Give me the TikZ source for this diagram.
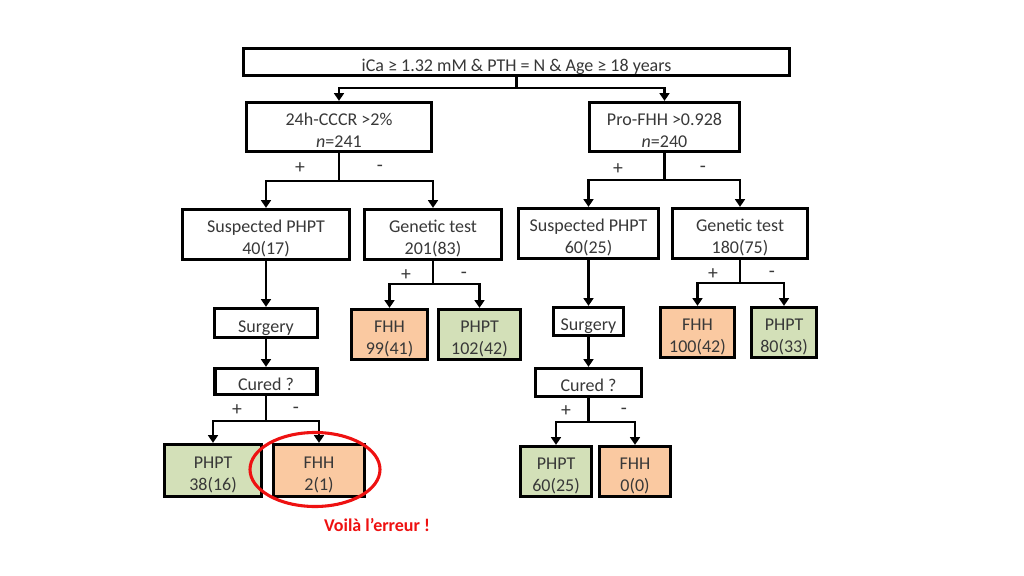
\documentclass[tikz,border=0pt]{standalone}
\usepackage{fontspec}
\setmainfont{Carlito}
\usepackage{xcolor}
\usetikzlibrary{arrows.meta, positioning}

\definecolor{phptgreen}{HTML}{D3E0B8}
\definecolor{fhhorange}{HTML}{FAC9A1}
\definecolor{inkgray}{HTML}{383838}
\definecolor{errred}{HTML}{EE1111}

% text sits a little below the middle of each box
\newcommand{\bx}[1]{\raisebox{-3.5pt}[\height][\depth]{\begin{tabular}{@{}c@{}}#1\end{tabular}}}

\tikzset{
  box/.style={draw, line width=2.3pt, fill=white, text=inkgray, inner sep=0pt},
  sz/.style 2 args={minimum width=#1*0.025cm, minimum height=#2*0.025cm},
  phpt/.style={box, fill=phptgreen},
  fhh/.style={box, fill=fhhorange},
  link/.style={line width=2.1pt},
  arr/.style={link, -{Triangle[width=7pt,length=5.5pt]}},
  sign/.style={text=inkgray, inner sep=0pt, font=\fontsize{14}{16}\selectfont}
}

\begin{document}
\begin{tikzpicture}[x=0.025cm, y=-0.025cm, font=\fontsize{12.8}{15.6}\selectfont]
    \useasboundingbox (0,0) rectangle (1024,576);

    % start
    \node[box, sz={546}{27}] (cond) at (516.5,62) {\bx{iCa ≥ 1.32 mM \& PTH = N \& Age ≥ 18 years}};
    \node[box, sz={185}{49}] (cccr) at (339,127) {\bx{24h-CCCR >2\%\\\textit{n}=241}};
    \node[box, sz={150}{49}] (profhh) at (664.5,127) {\bx{Pro-FHH >0.928\\\textit{n}=240}};

    % left branch
    \node[box, sz={167}{50}] (suspL) at (266,234.5) {\bx{Suspected PHPT\\40(17)}};
    \node[box, sz={137}{50}] (genL) at (433,234.5) {\bx{Genetic test\\201(83)}};
    \node[fhh, sz={76}{50}] (fhhL) at (389.5,334.5) {\bx{FHH\\99(41)}};
    \node[phpt, sz={82}{50}] (phptL) at (479.5,334.5) {\bx{PHPT\\102(42)}};
    \node[box, sz={103}{29}] (surgL) at (266,323) {\bx{Surgery}};
    \node[box, sz={102}{26}] (curedL) at (266,381.5) {\bx{Cured ?}};
    \node[phpt, sz={97}{52}] (phptLL) at (213,470.5) {\bx{PHPT\\38(16)}};
    \node[fhh, sz={91}{52}] (fhhLL) at (319,470.5) {\bx{FHH\\2(1)}};

    % right branch
    \node[box, sz={140}{50}] (suspR) at (588.5,233.5) {\bx{Suspected PHPT\\60(25)}};
    \node[box, sz={135}{50}] (genR) at (740,233.5) {\bx{Genetic test\\180(75)}};
    \node[fhh, sz={74}{50}] (fhhR) at (697.5,332.5) {\bx{FHH\\100(42)}};
    \node[phpt, sz={65}{50}] (phptR) at (784,332.5) {\bx{PHPT\\80(33)}};
    \node[box, sz={70}{28}] (surgR) at (588.5,321.5) {\bx{Surgery}};
    \node[box, sz={106}{28}] (curedR) at (588.5,382.5) {\bx{Cured ?}};
    \node[phpt, sz={71}{50}] (phptRR) at (556,471.5) {\bx{PHPT\\60(25)}};
    \node[fhh, sz={71}{50}] (fhhRR) at (635,471.5) {\bx{FHH\\0(0)}};

    % junctions
    \coordinate (j0) at (516.5,88);
    \coordinate (j1) at (339,181);
    \coordinate (j2) at (664.5,180);
    \coordinate (j3) at (433,284);
    \coordinate (j4) at (740,283);
    \coordinate (j5) at (266,421);
    \coordinate (j6) at (588.5,422);

    \draw[link] (cond.south) -- (j0);
    \draw[arr] (j0) -| (cccr);
    \draw[arr] (j0) -| (profhh);

    \draw[link] (cccr.south) -- (j1);
    \draw[arr] (j1) -| (suspL);
    \draw[arr] (j1) -| (genL);
    \draw[link] (profhh.south) -- (j2);
    \draw[arr] (j2) -| (suspR);
    \draw[arr] (j2) -| (genR);

    \draw[link] (genL.south) -- (j3);
    \draw[arr] (j3) -| (fhhL);
    \draw[arr] (j3) -| (phptL);
    \draw[link] (genR.south) -- (j4);
    \draw[arr] (j4) -| (fhhR);
    \draw[arr] (j4) -| (phptR);

    \draw[arr] (suspL) -- (surgL);
    \draw[arr] (surgL) -- (curedL);
    \draw[arr] (suspR) -- (surgR);
    \draw[arr] (surgR) -- (curedR);

    \draw[link] (curedL.south) -- (j5);
    \draw[arr] (j5) -| (phptLL);
    \draw[arr] (j5) -| (fhhLL);
    \draw[link] (curedR.south) -- (j6);
    \draw[arr] (j6) -| (phptRR);
    \draw[arr] (j6) -| (fhhRR);

    % signs
    \node[sign] (p1) at (300,168) {+};
    \node[sign] (m1) at (380,168) {-};
    \node[sign] (p2) at (618,169) {+};
    \node[sign] (m2) at (703,169) {-};
    \node[sign] (p3) at (406,275) {+};
    \node[sign] (m3) at (464,275) {-};
    \node[sign] (p4) at (713,274) {+};
    \node[sign] (m4) at (772,274) {-};
    \node[sign] (p5) at (237,410) {+};
    \node[sign] (m5) at (296,410) {-};
    \node[sign] (p6) at (566,411) {+};
    \node[sign] (m6) at (624,411) {-};

    % the mistake
    \draw[errred, line width=2.2pt] (315,469.5) ellipse [x radius=65, y radius=37];
    \node[text=errred, font=\bfseries\fontsize{12.8}{15.6}\selectfont] (errnote) at (377,525) {Voilà l’erreur !};
\end{tikzpicture}
\end{document}
